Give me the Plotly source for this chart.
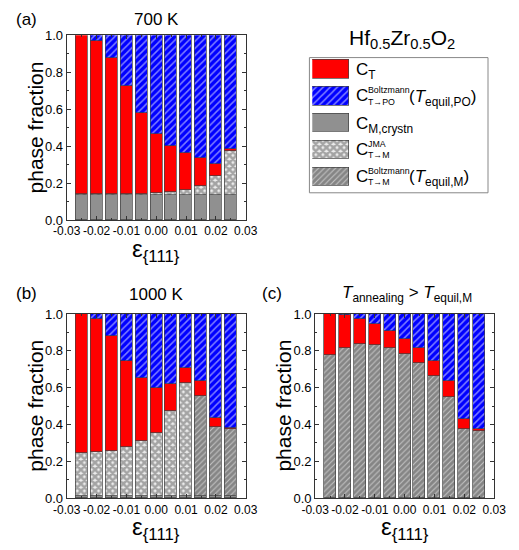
import plotly.graph_objects as go

# ---------------- data ----------------
strain = [-0.025, -0.02, -0.015, -0.01, -0.005, 0.0, 0.005, 0.01, 0.015, 0.02, 0.025]
x_tick_vals = [-0.03, -0.02, -0.01, 0.0, 0.01, 0.02, 0.03]
x_tick_text = ["-0.03", "-0.02", "-0.01", "0.00", "0.01", "0.02", "0.03"]

# (a) 700 K  -- segment heights, bottom to top
a_m_crystn = [0.137, 0.137, 0.137, 0.137, 0.137, 0.137, 0.137, 0.137, 0.137, 0.137, 0.137]
a_jma = [0.002, 0.003, 0.003, 0.004, 0.005, 0.010, 0.012, 0.023, 0.047, 0.100, 0.237]
a_t = [0.861, 0.827, 0.737, 0.582, 0.437, 0.316, 0.251, 0.200, 0.153, 0.067, 0.008]
a_po = [0.000, 0.033, 0.123, 0.277, 0.421, 0.537, 0.600, 0.640, 0.663, 0.696, 0.618]

# (b) 1000 K
b_m_crystn = [0.012, 0.012, 0.012, 0.012, 0.012, 0.012, 0.012, 0.012, 0.012, 0.012, 0.012]
b_jma = [0.231, 0.240, 0.245, 0.265, 0.300, 0.341, 0.459, 0.614, 0.0, 0.0, 0.0]
b_boltz_m = [0.0, 0.0, 0.0, 0.0, 0.0, 0.0, 0.0, 0.0, 0.542, 0.372, 0.362]
b_t = [0.757, 0.723, 0.625, 0.469, 0.339, 0.243, 0.148, 0.083, 0.081, 0.052, 0.009]
b_po = [0.000, 0.025, 0.118, 0.254, 0.349, 0.404, 0.381, 0.291, 0.365, 0.564, 0.617]

# (c) T_annealing > T_equil,M
c_boltz_m = [0.776, 0.817, 0.836, 0.834, 0.817, 0.785, 0.735, 0.665, 0.550, 0.376, 0.365]
c_t = [0.224, 0.179, 0.139, 0.111, 0.093, 0.077, 0.080, 0.079, 0.085, 0.056, 0.011]
c_po = [0.000, 0.004, 0.025, 0.055, 0.090, 0.138, 0.185, 0.256, 0.365, 0.568, 0.624]

panel_titles = ["700 K", "1000 K", "<i>T</i><sub>annealing</sub> > <i>T</i><sub>equil,M</sub>"]
panel_labels = ["(a)", "(b)", "(c)"]
x_title = "\u03b5<sub>{111}</sub>"
y_title = "phase fraction"
legend_title = "Hf<sub>0.5</sub>Zr<sub>0.5</sub>O<sub>2</sub>"
# (main, superscript, subscript, tail)
legend_entries = [
    ("C", None, "T", ""),
    ("C", "Boltzmann", "T\u2192PO", "(<i>T</i><sub>equil,PO</sub>)"),
    ("C", None, "M,crystn", ""),
    ("C", "JMA", "T\u2192M", ""),
    ("C", "Boltzmann", "T\u2192M", "(<i>T</i><sub>equil,M</sub>)"),
]

# ---------------- styles ----------------
W, H = 519, 550
FONT = "Liberation Sans, Arial, sans-serif"
EDGE = dict(color="#404040", width=0.7)

STYLES = {
    "t": dict(color="#ff0000", line=EDGE),
    "po": dict(color="#0000ff", line=EDGE,
               pattern=dict(shape="/", bgcolor="#0000ff", fgcolor="white", size=5, solidity=0.3)),
    "m": dict(color="#909090", line=EDGE),
    "jma": dict(color="#7a7a7a", line=EDGE,
                pattern=dict(shape="x", bgcolor="#ececec", fgcolor="#5c5c5c", size=5, solidity=0.75)),
    "bm": dict(color="#808080", line=EDGE,
               pattern=dict(shape="/", bgcolor="#858585", fgcolor="white", size=4, solidity=0.28)),
}
legend_keys = ["t", "po", "m", "jma", "bm"]


def px(x, y):
    return x / W, 1 - y / H


def clean(vals):
    return [v if v > 0 else None for v in vals]


fig = go.Figure()

panels = [
    ("x", "y", [("m", a_m_crystn), ("jma", a_jma), ("t", a_t), ("po", a_po)]),
    ("x2", "y2", [("m", b_m_crystn), ("jma", b_jma), ("bm", b_boltz_m), ("t", b_t), ("po", b_po)]),
    ("x3", "y3", [("bm", c_boltz_m), ("t", c_t), ("po", c_po)]),
]
for xa, ya, series in panels:
    for key, vals in series:
        fig.add_trace(go.Bar(x=strain, y=clean(vals), width=0.0040, marker=STYLES[key],
                             xaxis=xa, yaxis=ya, showlegend=False))

# legend swatches drawn on a hidden helper axis
for k, key in enumerate(legend_keys):
    fig.add_trace(go.Bar(x=[1], y=[k], base=0, orientation="h", width=0.69,
                         marker=STYLES[key], xaxis="x4", yaxis="y4", showlegend=False))

dom_ab = [55.5 / W, 244 / W]
dom_c = [317 / W, 505.5 / W]
dom_top = [1 - 219 / H, 1 - 29 / H]
dom_bot = [1 - 505 / H, 1 - 315.7 / H]

xcommon = dict(range=[-0.03, 0.03], tickvals=x_tick_vals, ticktext=x_tick_text, tickangle=0,
               ticks="inside", ticklen=4, tickcolor="#333", showline=True, linecolor="#333",
               linewidth=1, mirror="ticks", showgrid=False, zeroline=False,
               tickfont=dict(family=FONT, size=12, color="black"),
               minor=dict(dtick=0.005, tick0=0, ticks="inside", ticklen=2, tickcolor="#333",
                          showgrid=False))
ycommon = dict(range=[0, 1], dtick=0.2, tickformat=".1f",
               ticks="inside", ticklen=4, tickcolor="#333", showline=True, linecolor="#333",
               linewidth=1, mirror="ticks", showgrid=False, zeroline=False,
               tickfont=dict(family=FONT, size=13, color="black"),
               minor=dict(dtick=0.1, ticks="inside", ticklen=2, tickcolor="#333", showgrid=False))

fig.update_layout(
    width=W, height=H, margin=dict(l=0, r=0, t=0, b=0),
    paper_bgcolor="white", plot_bgcolor="white", barmode="stack", bargap=0,
    font=dict(family=FONT, color="black"),
    xaxis=dict(domain=dom_ab, anchor="y", **xcommon),
    yaxis=dict(domain=dom_top, anchor="x", **ycommon),
    xaxis2=dict(domain=dom_ab, anchor="y2", **xcommon),
    yaxis2=dict(domain=dom_bot, anchor="x2", **ycommon),
    xaxis3=dict(domain=dom_c, anchor="y3", **xcommon),
    yaxis3=dict(domain=dom_bot, anchor="x3", **ycommon),
    xaxis4=dict(domain=[314 / W, 353 / W], anchor="y4", range=[0, 1], visible=False, fixedrange=True),
    yaxis4=dict(domain=[1 - 188 / H, 1 - 50 / H], anchor="x4", range=[4.5, -0.5], visible=False,
                fixedrange=True),
)

ann = []


def add_text(text, x, y, size, xanchor="center", yanchor="middle", angle=0):
    xx, yy = px(x, y)
    ann.append(dict(text=text, x=xx, y=yy, xref="paper", yref="paper", showarrow=False,
                    xanchor=xanchor, yanchor=yanchor, textangle=angle,
                    font=dict(family=FONT, size=size, color="black")))


# panel labels, titles and axis titles
title_pos = [(150, 13), (150, 296), (414, 295)]
label_pos = [(13, 13), (13, 295), (272, 295)]
xtitle_pos = [(150, 250), (150, 536), (412, 536)]
ytitle_pos = [(23, 124), (23, 410), (284, 410)]
for i in range(3):
    add_text(panel_titles[i], title_pos[i][0], title_pos[i][1], 17)
    add_text(panel_labels[i], label_pos[i][0], label_pos[i][1], 17)
    add_text(x_title, xtitle_pos[i][0], xtitle_pos[i][1], 24)
    add_text(y_title, ytitle_pos[i][0], ytitle_pos[i][1], 21, angle=-90)

# legend
add_text(legend_title, 408, 33, 21)
for k, (main, sup, sub, tail) in enumerate(legend_entries):
    yc = 63.8 + 27.6 * k
    if sup is None:
        add_text(f"{main}<sub>{sub}</sub>", 358, yc + 2, 17, xanchor="left")
    else:
        add_text(main, 358, yc, 17, xanchor="left")
        add_text(sup, 370.5, yc - 6, 8.8, xanchor="left")
        add_text(sub, 370.5, yc + 6, 8.8, xanchor="left")
        if tail:
            add_text(tail, 414, yc + 2, 17, xanchor="left")

fig.update_layout(annotations=ann)
x0, y0 = px(311, 52)
x1, y1 = px(499, 191)
fig.add_shape(type="rect", xref="paper", yref="paper", x0=x0, y0=y1, x1=x1, y1=y0,
              line=dict(color="#888", width=1), fillcolor="rgba(0,0,0,0)")

fig.write_html("out.html", config={"displayModeBar": False},
               post_script="document.body.style.margin='0';")
